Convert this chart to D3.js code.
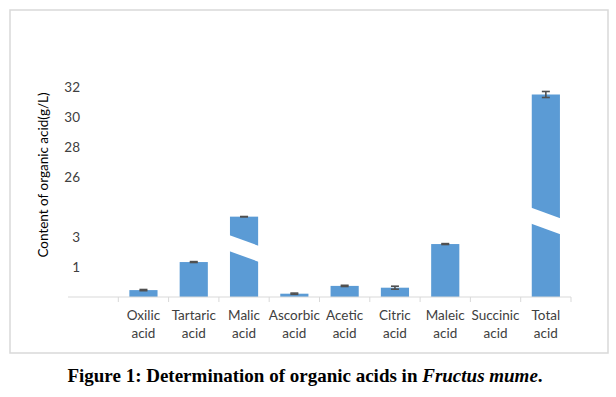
<!DOCTYPE html>
<html>
<head>
<meta charset="utf-8">
<script src="https://cdn.jsdelivr.net/npm/d3@7"></script>
<style>
  body { margin: 0; background: #fff; }
  svg { display: block; }
</style>
</head>
<body>
<div id="chart"></div>
<script>
// data (g/L)
const categories = ['', 'Oxilic acid', 'Tartaric acid', 'Malic acid', 'Ascorbic acid', 'Acetic acid',
  'Citric acid', 'Maleic acid', 'Succinic acid', 'Total acid'];
const values = [null, 0.23, 1.33, 10.8, 0.11, 0.37, 0.31, 2.53, 0, 31.5];
const errors = [null, 0.02, 0.03, 0.05, 0.02, 0.02, 0.05, 0.03, 0, 0.2];
// value where the bar is drawn broken (null = no break)
const breaks = [null, null, null, 2.6, null, null, null, null, null, 11.2];
const yTicks = [1, 3, 26, 28, 30, 32];
// broken axis: piecewise domain matching the tick labels
const yDomain = [0, 1, 3, 26, 32];

const W = 616, H = 397;
const plot = {left: 68, right: 571, top: 87, bottom: 297};

const svg = d3.select('#chart')
  .append('svg')
    .attr('width', W)
    .attr('height', H);

// chart frame
svg.append('rect')
  .attr('x', 10).attr('y', 10)
  .attr('width', 598).attr('height', 343)
  .attr('fill', '#fff')
  .attr('stroke', '#d9d9d9')
  .attr('stroke-width', 1.5);

const x = d3.scaleBand()
  .domain(categories)
  .range([plot.left, plot.right])
  .paddingInner(0.44)
  .paddingOuter(0.22);

const y = d3.scaleLinear()
  .domain(yDomain)
  .range([297, 267, 237, 177, 87]);

const data = categories.map((c, i) => ({
  name: c, value: values[i], err: errors[i], brk: breaks[i]
})).filter(d => d.value !== null);

// bars
svg.append('g')
  .selectAll('rect')
  .data(data)
  .enter()
  .append('rect')
    .attr('x', d => x(d.name))
    .attr('y', d => y(d.value))
    .attr('width', x.bandwidth())
    .attr('height', d => y(0) - y(d.value))
    .attr('fill', '#5b9bd5');

// slanted white gaps for the broken bars
svg.append('g')
  .selectAll('path')
  .data(data.filter(d => d.brk !== null))
  .enter()
  .append('path')
    .attr('d', d => {
      const x0 = x(d.name) - 1, x1 = x(d.name) + x.bandwidth() + 1;
      const yc = y(d.brk), drop = 11, half = 8;
      return `M${x0},${yc - half}L${x1},${yc - half + drop}L${x1},${yc + half + drop}L${x0},${yc + half}Z`;
    })
    .attr('fill', '#fff');

// error bars
const eb = svg.append('g')
  .attr('stroke', '#505050')
  .attr('stroke-width', 1.6)
  .selectAll('g')
  .data(data.filter(d => d.value > 0))
  .enter()
  .append('g')
    .attr('transform', d => `translate(${x(d.name) + x.bandwidth() / 2},0)`);
eb.append('line')
  .attr('y1', d => y(d.value + d.err))
  .attr('y2', d => y(d.value - d.err));
eb.append('line')
  .attr('x1', -4).attr('x2', 4)
  .attr('y1', d => y(d.value + d.err))
  .attr('y2', d => y(d.value + d.err));
eb.append('line')
  .attr('x1', -4).attr('x2', 4)
  .attr('y1', d => y(d.value - d.err))
  .attr('y2', d => y(d.value - d.err));

// x axis line and ticks
const xAxis = svg.append('g');
xAxis.append('line')
  .attr('x1', plot.left).attr('x2', plot.right)
  .attr('y1', plot.bottom).attr('y2', plot.bottom)
  .attr('stroke', '#d9d9d9');
xAxis.selectAll('.tick')
  .data(categories.slice(1))
  .enter()
  .append('line')
    .attr('x1', d => x(d) - x.step() * x.paddingInner() / 2)
    .attr('x2', d => x(d) - x.step() * x.paddingInner() / 2)
    .attr('y1', plot.bottom).attr('y2', plot.bottom + 5)
    .attr('stroke', '#d9d9d9');
xAxis.append('line')
  .attr('x1', plot.right).attr('x2', plot.right)
  .attr('y1', plot.bottom).attr('y2', plot.bottom + 5)
  .attr('stroke', '#d9d9d9');

// category labels (two lines)
const lab = svg.append('g')
  .attr('font-family', 'Lato, sans-serif')
  .attr('font-size', 13.5)
  .attr('fill', '#404040')
  .attr('text-anchor', 'middle')
  .selectAll('text')
  .data(categories.slice(1))
  .enter()
  .append('text')
    .attr('x', d => x(d) + x.bandwidth() / 2)
    .attr('y', 320);
lab.append('tspan')
  .text(d => d.split(' ')[0]);
lab.append('tspan')
  .attr('x', d => x(d) + x.bandwidth() / 2)
  .attr('dy', 18)
  .text(d => d.split(' ')[1]);

// y tick labels
svg.append('g')
  .attr('font-family', 'Lato, sans-serif')
  .attr('font-size', 13.5)
  .attr('fill', '#404040')
  .attr('text-anchor', 'end')
  .selectAll('text')
  .data(yTicks)
  .enter()
  .append('text')
    .attr('x', 80)
    .attr('y', d => y(d) + 5)
    .text(d => d);

// y axis title
svg.append('text')
  .attr('transform', 'translate(48,175) rotate(-90)')
  .attr('text-anchor', 'middle')
  .attr('font-family', 'Lato, sans-serif')
  .attr('font-size', 13.5)
  .attr('fill', '#000')
  .text('Content of organic acid(g/L)');

// caption
const cap = svg.append('text')
  .attr('x', 305)
  .attr('y', 382)
  .attr('text-anchor', 'middle')
  .attr('font-family', '"Liberation Serif", "Times New Roman", serif')
  .attr('font-weight', 'bold')
  .attr('font-size', 19)
  .attr('fill', '#000');
cap.append('tspan').text('Figure 1: Determination of organic acids in ');
cap.append('tspan').attr('font-style', 'italic').text('Fructus mume');
cap.append('tspan').text('.');
</script>
</body>
</html>
